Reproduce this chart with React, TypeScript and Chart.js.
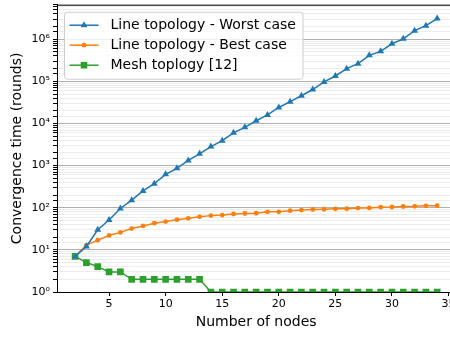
import React, { useEffect, useRef } from 'react';
import { Chart, registerables } from 'chart.js';

Chart.register(...registerables);

const nodes = [2, 3, 4, 5, 6, 7, 8, 9, 10, 11, 12, 13, 14, 15, 16, 17, 18, 19, 20, 21, 22, 23, 24, 25, 26, 27, 28, 29, 30, 31, 32, 33, 34];

const worstCase = [7, 12, 30, 51, 96, 151, 250, 373, 620, 860, 1330, 1900, 2830, 3900, 6000, 8100, 11600, 16000, 24000, 33000, 45500, 64000, 97000, 134000, 200000, 263000, 415000, 515000, 780000, 1020000, 1600000, 2100000, 3100000];

const bestCase = [7, 13, 17, 22, 26, 32, 37, 43, 47, 52, 56, 61, 65, 67, 71, 73, 74, 80, 80, 85, 88, 91, 92, 94, 95, 98, 99, 103, 104, 107, 108, 111, 112];

const meshTopology = [7, 5, 4, 3, 3, 2, 2, 2, 2, 2, 2, 2, 1, 1, 1, 1, 1, 1, 1, 1, 1, 1, 1, 1, 1, 1, 1, 1, 1, 1, 1, 1, 1];

const seriesLabels = ['Line topology - Worst case', 'Line topology - Best case', 'Mesh toplogy [12]'];
const seriesColors = ['#1f77b4', '#ff7f0e', '#2ca02c'];
const seriesStyles = ['triangle', 'circle', 'rect'];

const xTicks = [5, 10, 15, 20, 25, 30, 35];
const superscripts = ['⁰', '¹', '²', '³', '⁴', '⁵', '⁶', '⁷'];

const FONT = "'DejaVu Sans', sans-serif";

function decadeOf(v: number): number | null {
  const l = Math.log10(v);
  const r = Math.round(l);
  return Math.abs(l - r) < 1e-9 ? r : null;
}

function drawMarker(ctx: CanvasRenderingContext2D, style: string, x: number, y: number, color: string) {
  ctx.fillStyle = color;
  ctx.beginPath();
  if (style === 'triangle') {
    const r = 4;
    ctx.moveTo(x, y - r);
    ctx.lineTo(x + r * 0.866, y + r / 2);
    ctx.lineTo(x - r * 0.866, y + r / 2);
    ctx.closePath();
  } else if (style === 'rect') {
    const s = 3.3;
    ctx.rect(x - s, y - s, 2 * s, 2 * s);
  } else {
    ctx.arc(x, y, 2.4, 0, Math.PI * 2);
  }
  ctx.fill();
}

const mplDecor = {
  id: 'mplDecor',
  afterDraw(chart: any) {
    const { ctx, chartArea } = chart;
    ctx.save();
    // top spine
    ctx.strokeStyle = '#000';
    ctx.lineWidth = 1;
    ctx.beginPath();
    ctx.moveTo(chartArea.left, chartArea.top + 0.5);
    ctx.lineTo(chartArea.right, chartArea.top + 0.5);
    ctx.stroke();

    // legend
    ctx.font = `14px ${FONT}`;
    let maxW = 0;
    chart.data.datasets.forEach((ds: any) => {
      maxW = Math.max(maxW, ctx.measureText(ds.label).width);
    });
    const x0 = chartArea.left + 7.5;
    const y0 = chartArea.top + 7.5;
    const w = 46 + maxW + 7;
    const h = 67;
    const r = 3;
    ctx.beginPath();
    ctx.moveTo(x0 + r, y0);
    ctx.lineTo(x0 + w - r, y0);
    ctx.arcTo(x0 + w, y0, x0 + w, y0 + r, r);
    ctx.lineTo(x0 + w, y0 + h - r);
    ctx.arcTo(x0 + w, y0 + h, x0 + w - r, y0 + h, r);
    ctx.lineTo(x0 + r, y0 + h);
    ctx.arcTo(x0, y0 + h, x0, y0 + h - r, r);
    ctx.lineTo(x0, y0 + r);
    ctx.arcTo(x0, y0, x0 + r, y0, r);
    ctx.closePath();
    ctx.fillStyle = 'rgba(255,255,255,0.8)';
    ctx.fill();
    ctx.strokeStyle = '#cccccc';
    ctx.lineWidth = 1;
    ctx.stroke();

    chart.data.datasets.forEach((ds: any, i: number) => {
      const cy = y0 + 13 + i * 20;
      ctx.strokeStyle = ds.borderColor;
      ctx.lineWidth = 1.5;
      ctx.beginPath();
      ctx.moveTo(x0 + 5, cy);
      ctx.lineTo(x0 + 34, cy);
      ctx.stroke();
      drawMarker(ctx, ds.pointStyle, x0 + 19.5, cy, ds.borderColor);
      ctx.fillStyle = '#000';
      ctx.textBaseline = 'middle';
      ctx.textAlign = 'left';
      ctx.font = `14px ${FONT}`;
      ctx.fillText(ds.label, x0 + 46, cy);
    });
    ctx.restore();
  },
};

export default function App() {
  const canvasRef = useRef<HTMLCanvasElement | null>(null);

  useEffect(() => {
    if (!canvasRef.current) return;
    const seriesValues = [worstCase, bestCase, meshTopology];
    const chart = new Chart(canvasRef.current, {
      type: 'line',
      data: {
        datasets: seriesValues.map((vals, i) => ({
          label: seriesLabels[i],
          data: nodes.map((n, j) => ({ x: n, y: vals[j] })),
          borderColor: seriesColors[i],
          backgroundColor: seriesColors[i],
          pointBackgroundColor: seriesColors[i],
          pointBorderColor: seriesColors[i],
          pointBorderWidth: 0,
          pointStyle: seriesStyles[i] as any,
          pointRadius: i === 0 ? 4 : i === 1 ? 2.4 : 4.7,
          borderWidth: 1.5,
          fill: false,
          tension: 0,
        })),
      },
      options: {
        responsive: false,
        animation: false,
        devicePixelRatio: 1,
        layout: { padding: { top: 2, right: 3, left: 0, bottom: 0 } },
        plugins: {
          legend: { display: false },
          tooltip: { enabled: false },
        },
        scales: {
          x: {
            type: 'linear',
            min: 0.4,
            max: 35.6,
            afterBuildTicks: (scale: any) => {
              scale.ticks = xTicks.map((v) => ({ value: v }));
            },
            afterFit: (scale: any) => {
              scale.height = 45;
            },
            grid: { drawOnChartArea: false, drawTicks: true, tickLength: 4, tickColor: '#000' },
            border: { color: '#000', width: 1 },
            ticks: { font: { family: FONT, size: 11 }, color: '#000', padding: 2, maxRotation: 0, autoSkip: false },
            title: {
              display: true,
              text: 'Number of nodes',
              font: { family: FONT, size: 14 },
              color: '#000',
              padding: { top: 0, bottom: 6 },
            },
          },
          y: {
            type: 'logarithmic',
            min: 1,
            max: 6.6e6,
            afterFit: (scale: any) => {
              scale.width = 57;
              scale.paddingTop = 0;
              scale.paddingBottom = 0;
            },
            grid: {
              color: (c: any) => (c.tick && decadeOf(c.tick.value) !== null ? '#b0b0b0' : '#ededed'),
              lineWidth: 1,
              drawTicks: true,
              tickLength: 4,
              tickColor: '#000',
            },
            border: { color: '#000', width: 1 },
            ticks: {
              autoSkip: false,
              font: { family: FONT, size: 11 },
              color: '#000',
              padding: 3,
              callback: (v: any) => {
                const d = decadeOf(Number(v));
                return d !== null && d >= 0 && d <= 6 ? '10' + superscripts[d] : '';
              },
            },
            title: {
              display: true,
              text: 'Convergence time (rounds)',
              font: { family: FONT, size: 14 },
              color: '#000',
              padding: { top: 9, bottom: 0 },
            },
          },
        },
      },
      plugins: [mplDecor],
    });
    return () => chart.destroy();
  }, []);

  return (
    <div style={{ position: 'absolute', left: 0, top: 0, width: 450, height: 337, overflow: 'hidden', background: '#fff' }}>
      <canvas ref={canvasRef} width={460} height={337} style={{ width: 460, height: 337, display: 'block' }} />
    </div>
  );
}
